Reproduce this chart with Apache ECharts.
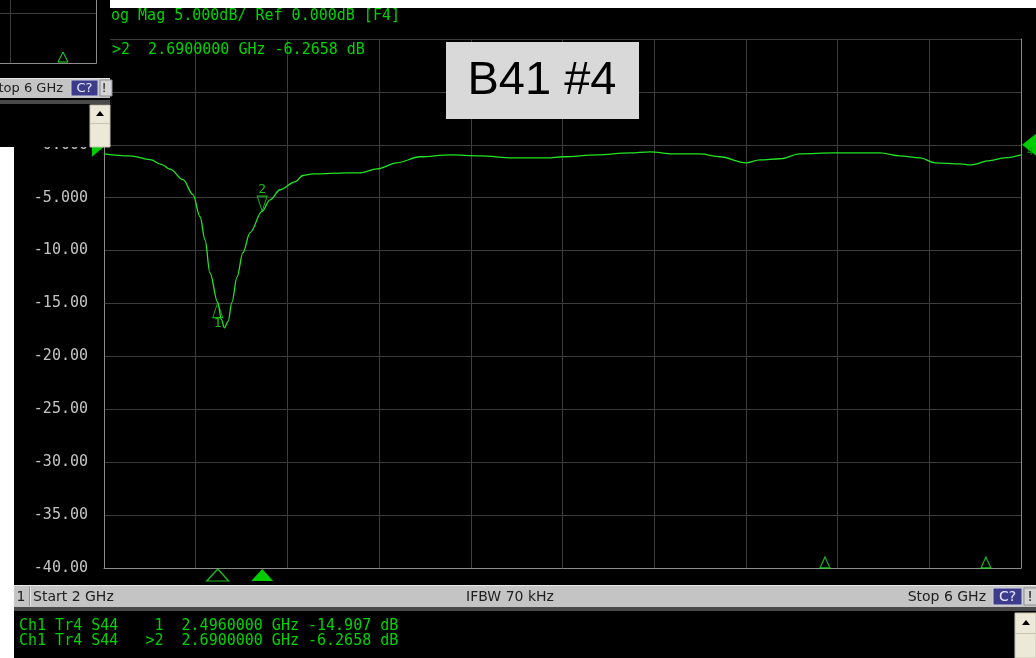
<!DOCTYPE html>
<html>
<head>
<meta charset="utf-8">
<script src="https://cdn.jsdelivr.net/npm/echarts@6/dist/echarts.min.js"></script>
<style>
html,body{margin:0;padding:0;background:#fff;}
#c{width:1036px;height:658px;}
</style>
</head>
<body>
<div id="c"></div>
<script>
// ---- data ----
const freqGHz = [2.000, 2.113, 2.201, 2.250, 2.288, 2.345, 2.388, 2.419, 2.441, 2.462, 2.496, 2.512, 2.525, 2.541, 2.558, 2.580, 2.606, 2.637, 2.690, 2.724, 2.768, 2.833, 2.868, 2.912, 3.060, 3.117, 3.191, 3.278, 3.378, 3.509, 3.640, 3.784, 3.932, 4.002, 4.150, 4.294, 4.382, 4.482, 4.600, 4.687, 4.800, 4.861, 4.949, 5.036, 5.180, 5.385, 5.472, 5.560, 5.625, 5.734, 5.778, 5.865, 5.930, 6.000];
const s44dB   = [-0.85, -1.04, -1.40, -1.85, -2.30, -3.30, -4.70, -6.80, -9.00, -12.1, -14.907, -16.5, -17.3, -16.7, -14.9, -12.5, -10.2, -8.3, -6.2658, -5.2, -4.25, -3.5, -2.9, -2.75, -2.65, -2.65, -2.27, -1.70, -1.13, -0.95, -1.04, -1.23, -1.23, -1.13, -0.95, -0.76, -0.66, -0.85, -0.85, -1.13, -1.70, -1.42, -1.32, -0.85, -0.76, -0.76, -1.04, -1.23, -1.70, -1.80, -1.90, -1.50, -1.23, -0.95];
const markerNames = ['1', '2'];
const markerFreq = [2.496, 2.690];
const markerDb = [-14.907, -6.2658];
const otherMarkerFreq = [5.145, 5.847];
const refLevelDb = 0;
const startGHz = 2, stopGHz = 6, stepGHz = 0.4;
const yMin = -40, yMax = 10, yStep = 5;
const yTicks = [0, -5, -10, -15, -20, -25, -30, -35, -40];
const yTickLabels = ['0.000', '-5.000', '-10.00', '-15.00', '-20.00', '-25.00', '-30.00', '-35.00', '-40.00'];
const headerText = 'og Mag 5.000dB/ Ref 0.000dB [F4]';
const activeMarkerText = '>2  2.6900000 GHz -6.2658 dB';
const titleText = 'B41 #4';
const markerTableLines = ['Ch1 Tr4 S44    1  2.4960000 GHz -14.907 dB', 'Ch1 Tr4 S44   >2  2.6900000 GHz -6.2658 dB'];

// ---- styles ----
const GREEN = '#22e622';
const TXTGREEN = '#00d400';
const MONO = 'DejaVu Sans Mono';
const SANS = 'DejaVu Sans';

const chart = echarts.init(document.getElementById('c'));

const trace = freqGHz.map((f, i) => [f, s44dB[i]]);

const outline = {color: 'rgba(0,0,0,0)', borderColor: GREEN, borderWidth: 1};
const UP = 'path://M5,0 L10,15 L0,15 Z';
const DOWN = 'path://M0,0 L10,0 L5,15 Z';

const markerData = markerFreq.map((f, i) => {
  const up = i === 0;
  return {
    value: [f, markerDb[i]],
    symbol: up ? UP : DOWN,
    symbolSize: [10, 15],
    symbolOffset: [0, up ? 7.5 : -7.5],
    itemStyle: outline,
    label: {show: true, formatter: markerNames[i], position: up ? 'bottom' : 'top', distance: -1,
      color: GREEN, fontFamily: MONO, fontSize: 13}
  };
});

const bottomMarkerData = markerFreq.map((f, i) => ({
  value: [f, yMin],
  symbol: UP,
  symbolSize: [22, 12],
  symbolOffset: [0, 7],
  itemStyle: i === 1 ? {color: '#00ff00'} : {color: 'rgba(0,0,0,0)', borderColor: GREEN, borderWidth: 1.3}
}));

const otherMarkerData = otherMarkerFreq.map(f => ({
  value: [f, yMin],
  symbol: UP,
  symbolSize: [10, 11],
  symbolOffset: [0, -5.5],
  itemStyle: {color: 'rgba(0,0,0,0)', borderColor: GREEN, borderWidth: 1.2}
}));

const refData = [
  {value: [startGHz, refLevelDb], symbol: 'path://M0,0 L12,10 L0,20 Z', symbolSize: [12, 20], symbolOffset: [-6, 2], itemStyle: {color: '#00ff00'}},
  {value: [stopGHz, refLevelDb], symbol: 'path://M14,0 L14,22 L0,11 Z', symbolSize: [14, 22], symbolOffset: [8, 0], itemStyle: {color: '#00ff00'},
   label: {show: true, formatter: '4', position: 'inside', offset: [1, 7], color: '#00a000', fontFamily: MONO, fontSize: 11}}
];

const Z = 100;
function rect(x, y, w, h, fill, extra) {
  return Object.assign({type: 'rect', z: Z, shape: {x, y, width: w, height: h}, style: Object.assign({fill}, extra || {})});
}
function line(x1, y1, x2, y2, stroke) {
  return {type: 'line', z: Z, shape: {x1, y1, x2, y2}, style: {stroke, lineWidth: 1}};
}
function text(t, x, y, font, fill, align, extraZ) {
  return {type: 'text', z: Z + (extraZ || 1), style: {text: t, x, y, font, fill, align: align || 'left', verticalAlign: 'middle'}};
}
function poly(points, style) {
  return {type: 'polygon', z: Z + 1, shape: {points}, style};
}

const graphics = [
  // white page edges
  rect(110, 0, 926, 8, '#ffffff'),
  rect(0, 147, 14, 511, '#ffffff'),
  // inset (another window) top-left
  rect(0, 0, 110, 147, '#000000'),
  line(10.5, 0, 10.5, 63, '#3c3c3c'),
  line(0, 13.5, 96, 13.5, '#3c3c3c'),
  line(96.5, 0, 96.5, 63.5, '#8c8c8c'),
  line(0, 63.5, 96.5, 63.5, '#8c8c8c'),
  poly([[63, 52], [68, 62], [58, 62]], {fill: 'none', stroke: GREEN, lineWidth: 1}),
  rect(0, 78, 110, 20, '#c4c4c4'),
  line(0, 78.5, 110, 78.5, '#e4e4e4'),
  text('Stop 6 GHz', 63, 89, '13px ' + SANS, '#202020', 'right'),
  rect(71, 80, 27, 16, '#3c3c8a', {stroke: '#d0d0e0', lineWidth: 1}),
  text('C?', 84.5, 88.5, '13px ' + SANS, '#e8e8ff', 'center'),
  rect(100, 80, 12, 16, '#d4d4d4', {stroke: '#909090', lineWidth: 1}),
  text('!', 104, 88.5, '13px ' + SANS, '#202020', 'center'),
  rect(0, 100, 110, 4, '#4a4a4a'),
  rect(90, 105, 20, 42, '#ece9d8', {stroke: '#c8c4b0', lineWidth: 1}),
  line(90, 123.5, 110, 123.5, '#c8c4b0'),
  poly([[100, 111], [104, 116], [96, 116]], {fill: '#000'}),
  // header texts
  text(headerText, 111, 16, '15px ' + MONO, TXTGREEN),
  text(activeMarkerText, 112, 50, '15px ' + MONO, TXTGREEN),
  // title box
  rect(446, 42, 193, 77, '#d9d9d9'),
  text(titleText, 542, 81, '47px "Liberation Sans", Arial, sans-serif', '#000000', 'center'),
  // bottom status bar
  rect(14, 585, 1022, 22, '#c4c4c4'),
  line(14, 585.5, 1036, 585.5, '#e8e8e8'),
  line(30.5, 587, 30.5, 606, '#e8e8e8'),
  line(29.5, 587, 29.5, 606, '#909090'),
  text('1', 21, 597, '14px ' + SANS, '#202020', 'center'),
  text('Start 2 GHz', 33, 597, '14px ' + SANS, '#202020', 'left'),
  text('IFBW 70 kHz', 510, 597, '14px ' + SANS, '#202020', 'center'),
  text('Stop 6 GHz', 986, 597, '14px ' + SANS, '#202020', 'right'),
  rect(993, 588, 29, 17, '#3c3c8a', {stroke: '#d0d0e0', lineWidth: 1}),
  text('C?', 1007.5, 597, '14px ' + SANS, '#e8e8ff', 'center'),
  rect(1024, 588, 14, 17, '#d4d4d4', {stroke: '#909090', lineWidth: 1}),
  text('!', 1030, 597, '14px ' + SANS, '#202020', 'center'),
  rect(14, 607, 1022, 4, '#4a4a4a'),
  // marker table
  text(markerTableLines[0], 19, 626, '15px ' + MONO, TXTGREEN),
  text(markerTableLines[1], 19, 641, '15px ' + MONO, TXTGREEN),
  // right scrollbar
  rect(1015, 613, 21, 45, '#ece9d8', {stroke: '#c8c4b0', lineWidth: 1}),
  line(1015, 633.5, 1036, 633.5, '#c8c4b0'),
  poly([[1026, 620], [1030, 625], [1022, 625]], {fill: '#000'})
];

chart.setOption({
  backgroundColor: '#000000',
  animation: false,
  grid: {left: 104, right: 15, top: 39, bottom: 90},
  xAxis: {
    type: 'value', min: startGHz, max: stopGHz, interval: stepGHz,
    axisLine: {show: true, onZero: false, lineStyle: {color: '#8c8c8c'}},
    axisTick: {show: false}, axisLabel: {show: false},
    splitLine: {show: true, lineStyle: {color: '#3c3c3c'}}
  },
  yAxis: [{
    type: 'value', min: yMin, max: yMax, interval: yStep,
    axisLine: {show: true, onZero: false, lineStyle: {color: '#8c8c8c'}},
    axisTick: {show: false},
    axisLabel: {
      color: '#c4c4c4', fontFamily: MONO, fontSize: 15, margin: 16,
      formatter: v => { const i = yTicks.indexOf(Math.round(v)); return i >= 0 ? yTickLabels[i] : ''; }
    },
    splitLine: {show: true, lineStyle: {color: '#3c3c3c'}}
  }, {
    type: 'value', min: yMin, max: yMax, interval: yStep, position: 'right',
    axisLine: {show: true, onZero: false, lineStyle: {color: '#8c8c8c'}},
    axisTick: {show: false}, axisLabel: {show: false}, splitLine: {show: false}
  }],
  series: [
    {type: 'line', data: trace, showSymbol: false, symbol: 'none', smooth: 0.35, smoothMonotone: 'x',
     lineStyle: {color: GREEN, width: 1.3}, z: 3},
    {type: 'scatter', data: markerData, z: 4},
    {type: 'scatter', data: bottomMarkerData, clip: false, z: 4},
    {type: 'scatter', data: otherMarkerData, clip: false, z: 4},
    {type: 'scatter', data: refData, clip: false, z: 4}
  ],
  graphic: graphics
});
</script>
</body>
</html>
